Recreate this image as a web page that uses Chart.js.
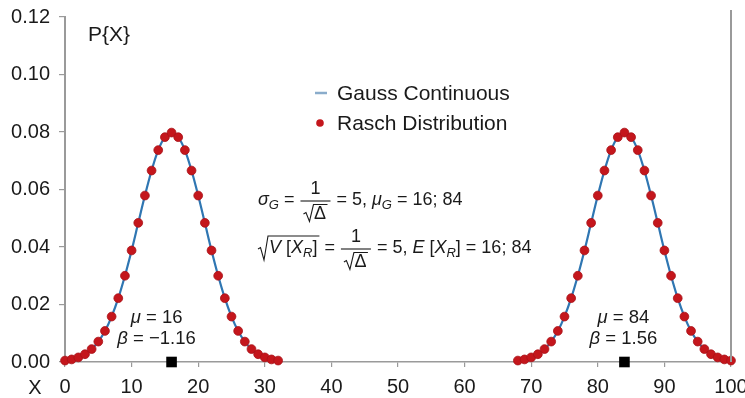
<!DOCTYPE html>
<html>
<head>
<meta charset="utf-8">
<script src="https://cdn.jsdelivr.net/npm/chart.js@4/dist/chart.umd.min.js"></script>
<style>
html,body{margin:0;padding:0;background:#fff;}
#wrap{position:relative;width:745px;height:398px;}
</style>
</head>
<body>
<div id="wrap"><canvas id="c" width="745" height="398"></canvas></div>
<script>
// ---- data ----
const xLeft  = [0,1,2,3,4,5,6,7,8,9,10,11,12,13,14,15,16,17,18,19,20,21,22,23,24,25,26,27,28,29,30,31,32];
const pLeft  = [0.0005,0.0009,0.0016,0.0027,0.0045,0.0071,0.0108,0.0158,0.0222,0.0300,0.0388,0.0484,0.0579,0.0666,0.0737,0.0782,0.0798,0.0782,0.0737,0.0666,0.0579,0.0484,0.0388,0.0300,0.0222,0.0158,0.0108,0.0071,0.0045,0.0027,0.0016,0.0009,0.0005];
const xRight = [68,69,70,71,72,73,74,75,76,77,78,79,80,81,82,83,84,85,86,87,88,89,90,91,92,93,94,95,96,97,98,99,100];
const pRight = [0.0005,0.0009,0.0016,0.0027,0.0045,0.0071,0.0108,0.0158,0.0222,0.0300,0.0388,0.0484,0.0579,0.0666,0.0737,0.0782,0.0798,0.0782,0.0737,0.0666,0.0579,0.0484,0.0388,0.0300,0.0222,0.0158,0.0108,0.0071,0.0045,0.0027,0.0016,0.0009,0.0005];
const means  = [16, 84];
const meanLabels = ["16", "84"];
const betaLabels = ["\u22121.16", "1.56"];
const seriesNames = ["Gauss Continuous", "Rasch Distribution"];
const xTicks = [0,10,20,30,40,50,60,70,80,90,100];
const yTicks = [0,0.02,0.04,0.06,0.08,0.10,0.12];

const FONT = "'Liberation Sans', Arial, Helvetica, sans-serif";
const LINE_COLOR = '#2f76b2';
const DOT_COLOR = '#c4161c';
const TXT = '#1a1a1a';

const leftPts  = xLeft.map((x,i)=>({x, y:pLeft[i]}));
const rightPts = xRight.map((x,i)=>({x, y:pRight[i]}));
const linePts  = leftPts.concat([{x:50, y:null}], rightPts);
const meanPts  = means.map(m=>({x:m, y:0}));

function setFont(ctx, size, it){ ctx.font = (it ? 'italic ' : '') + size + 'px ' + FONT; }
function drawRuns(ctx, x, y, runs, size){
  ctx.textBaseline = 'middle';
  ctx.textAlign = 'left';
  for (const r of runs){
    const fs = r.sub ? Math.round(size*0.7) : size;
    setFont(ctx, fs, r.it);
    const yy = r.sub ? y + size*0.3 : y;
    ctx.fillText(r.t, x, yy);
    x += ctx.measureText(r.t).width + (r.gap || 0);
  }
  return x;
}
function runsWidth(ctx, runs, size){
  let w = 0;
  for (const r of runs){ setFont(ctx, r.sub ? Math.round(size*0.7) : size, r.it); w += ctx.measureText(r.t).width + (r.gap||0); }
  return w;
}
function sqrtPath(ctx, x, yc, w, h){
  const top = yc - h/2, bot = yc + h/2;
  ctx.beginPath();
  ctx.moveTo(x, yc + 1);
  ctx.lineTo(x + 2.5, yc - 0.5);
  ctx.lineTo(x + 6, bot);
  ctx.lineTo(x + 10, top);
  ctx.lineTo(x + 10 + w, top);
  ctx.stroke();
  return x + 10;
}
function drawFrac(ctx, cx, barY, size){
  ctx.save();
  ctx.fillStyle = TXT; ctx.strokeStyle = TXT; ctx.lineWidth = 1.1;
  setFont(ctx, size, false);
  ctx.textAlign = 'center'; ctx.textBaseline = 'middle';
  ctx.fillText('1', cx, barY - 12);
  ctx.beginPath(); ctx.moveTo(cx - 15, barY); ctx.lineTo(cx + 15, barY); ctx.stroke();
  const dw = ctx.measureText('\u0394').width;
  const sx = cx - (dw + 10)/2 - 1;
  const start = sqrtPath(ctx, sx, barY + 12, dw + 2, 17);
  ctx.textAlign = 'left';
  ctx.fillText('\u0394', start + 0.5, barY + 13);
  ctx.restore();
}
// lays out a line of items: arrays of runs, or {frac:true}
function drawLine(ctx, x, y, items, size){
  for (const it of items){
    if (it.frac){ drawFrac(ctx, x + 16, y + 1, size); x += 32; }
    else if (it.sqrt){
      const w = runsWidth(ctx, it.sqrt, size);
      const st = sqrtPath(ctx, x, y, w + 3, 24);
      x = drawRuns(ctx, st + 1, y, it.sqrt, size) + 2;
    }
    else x = drawRuns(ctx, x, y, it, size);
  }
  return x;
}

const annot = {
  id: 'annot',
  afterDraw(chart){
    const ctx = chart.ctx;
    const xs = chart.scales.x;
    const a = chart.chartArea;
    ctx.save();
    // right border
    ctx.strokeStyle = '#9a9a9a';
    ctx.lineWidth = 2;
    ctx.beginPath(); ctx.moveTo(a.right, 10); ctx.lineTo(a.right, a.bottom); ctx.stroke();

    ctx.fillStyle = TXT;
    ctx.textBaseline = 'middle';
    setFont(ctx, 21, false);
    ctx.textAlign = 'left';
    ctx.fillText('P{X}', 88, 35);
    setFont(ctx, 20, false);
    ctx.textAlign = 'center';
    ctx.fillText('X', 35, 388);

    // legend
    ctx.strokeStyle = '#8aaccb';
    ctx.lineWidth = 2.5;
    ctx.beginPath(); ctx.moveTo(315, 93); ctx.lineTo(327, 93); ctx.stroke();
    ctx.fillStyle = DOT_COLOR;
    ctx.beginPath(); ctx.arc(320, 123, 3.8, 0, Math.PI*2); ctx.fill();
    ctx.fillStyle = TXT;
    ctx.textAlign = 'left';
    setFont(ctx, 21, false);
    ctx.fillText(seriesNames[0], 337, 94);
    ctx.fillText(seriesNames[1], 337, 124);

    // mean labels
    const offs = [-15, -1];
    const ms = 18.5;
    for (let i=0;i<means.length;i++){
      const cx = xs.getPixelForValue(means[i]) + offs[i];
      const l1 = [{t:'\u03bc', it:true},{t:' = ' + meanLabels[i]}];
      const l2 = [{t:'\u03b2', it:true},{t:' = ' + betaLabels[i]}];
      drawRuns(ctx, cx - runsWidth(ctx, l1, ms)/2, 318, l1, ms);
      drawRuns(ctx, cx - runsWidth(ctx, l2, ms)/2, 339, l2, ms);
    }

    // formulas
    const fs = 18;
    ctx.strokeStyle = TXT; ctx.lineWidth = 1.1;
    drawLine(ctx, 258, 200, [
      [{t:'\u03c3', it:true},{t:'G', it:true, sub:true}],
      [{t:' = '}], {frac:true}, [{t:' = 5, '}],
      [{t:'\u03bc', it:true},{t:'G', it:true, sub:true}],
      [{t:' = 16; 84'}]
    ], fs);
    drawLine(ctx, 258, 248, [
      {sqrt:[{t:'V', it:true},{t:' ['},{t:'X', it:true},{t:'R', it:true, sub:true},{t:']'}]},
      [{t:' = '}], {frac:true}, [{t:' = 5, '}],
      [{t:'E', it:true},{t:' ['},{t:'X', it:true},{t:'R', it:true, sub:true},{t:']'}],
      [{t:' = 16; 84'}]
    ], fs);
    ctx.restore();
  }
};

new Chart(document.getElementById('c'), {
  type: 'scatter',
  data: {
    datasets: [
      {
        label: seriesNames[0],
        data: linePts,
        showLine: true,
        spanGaps: false,
        borderColor: LINE_COLOR,
        borderWidth: 2.2,
        pointRadius: 0,
        tension: 0.4,
        cubicInterpolationMode: 'monotone',
        order: 2
      },
      {
        label: seriesNames[1],
        data: leftPts.concat(rightPts),
        showLine: false,
        pointRadius: 4.4,
        pointBackgroundColor: DOT_COLOR,
        pointBorderColor: '#a81218',
        pointBorderWidth: 0.8,
        clip: false,
        order: 1
      },
      {
        label: 'mean',
        data: meanPts,
        showLine: false,
        pointStyle: 'rect',
        pointRadius: 7.5,
        pointBackgroundColor: '#000',
        pointBorderColor: '#000',
        pointBorderWidth: 0,
        clip: false,
        order: 0
      }
    ]
  },
  options: {
    responsive: false,
    animation: false,
    events: [],
    layout: { padding: { left: 0, top: 17, right: 14, bottom: 0 } },
    plugins: { legend: { display: false }, tooltip: { enabled: false } },
    scales: {
      x: {
        type: 'linear', min: 0, max: 100,
        afterFit(s){ s.height = 36; s.paddingLeft = 0; s.paddingRight = 0; },
        afterBuildTicks(s){ s.ticks = xTicks.map(v=>({value:v})); },
        ticks: { font: { size: 20, family: FONT }, color: TXT, padding: 8, maxRotation: 0 },
        grid: { drawOnChartArea: false, tickLength: 5, color: '#9a9a9a', lineWidth: 1.2 },
        border: { color: '#9a9a9a', width: 1.6 }
      },
      y: {
        type: 'linear', min: 0, max: 0.12,
        afterFit(s){ s.width = 65; s.paddingTop = 0; s.paddingBottom = 0; },
        afterBuildTicks(s){ s.ticks = yTicks.map(v=>({value:v})); },
        ticks: { font: { size: 20, family: FONT }, color: TXT, padding: 9, callback: v => v.toFixed(2) },
        grid: { drawOnChartArea: false, tickLength: 6, color: '#9a9a9a', lineWidth: 1.2 },
        border: { color: '#9a9a9a', width: 2 }
      }
    }
  },
  plugins: [annot]
});
</script>
</body>
</html>
